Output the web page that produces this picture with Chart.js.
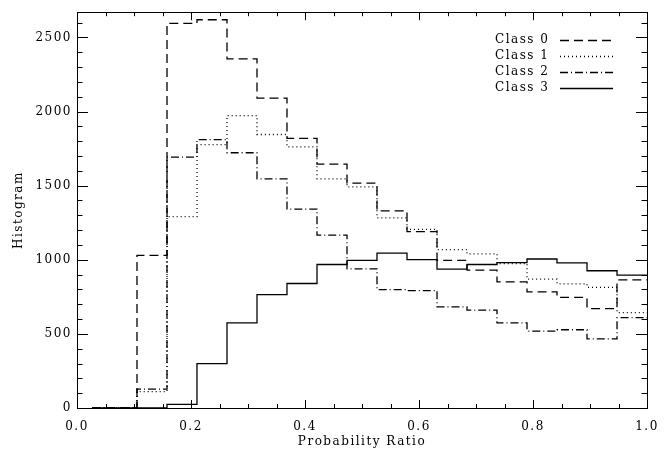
<!DOCTYPE html>
<html>
<head>
<meta charset="utf-8">
<script src="https://cdn.jsdelivr.net/npm/chart.js@4.4.1/dist/chart.umd.min.js"></script>
<style>
html,body{margin:0;padding:0;background:#fff;}
#wrap{width:672px;height:450px;}
</style>
</head>
<body>
<div id="wrap"><canvas id="c" width="672" height="450"></canvas></div>
<script>
// Bin centres of the probability-ratio histogram (last point closes the final bin at 1.0)
const ratio = [0.0263, 0.0789, 0.1316, 0.1842, 0.2368, 0.2895, 0.3421, 0.3947, 0.4474, 0.5,
               0.5526, 0.6053, 0.6579, 0.7105, 0.7632, 0.8158, 0.8684, 0.9211, 0.9737, 1.0];
const class0 = [0, 0, 1029, 2595, 2619, 2355, 2091, 1819, 1645, 1517, 1330, 1190, 996, 930, 851, 783, 746, 671, 864, 864];
const class1 = [0, 0, 110, 1291, 1777, 1972, 1845, 1761, 1546, 1491, 1282, 1205, 1069, 1040, 974, 869, 838, 814, 644, 644];
const class2 = [0, 0, 128, 1693, 1810, 1722, 1546, 1342, 1166, 939, 798, 792, 682, 660, 574, 519, 528, 466, 609, 609];
const class3 = [0, 0, 0, 24, 299, 574, 765, 840, 968, 996, 1045, 1001, 937, 968, 981, 1005, 979, 926, 897, 897];
const seriesNames = ['Class 0', 'Class 1', 'Class 2', 'Class 3'];
const xTicks = [0, 0.2, 0.4, 0.6, 0.8, 1.0];
const yTicks = [0, 500, 1000, 1500, 2000, 2500];

const FONT = 'DejaVu Serif';
const FSIZE = 12;
const SPACING = '1.5px';
const dashes = [[9, 5], [1, 3], [8, 3, 1, 3], []];
const allSeries = [class0, class1, class2, class3];

const datasets = allSeries.map((vals, i) => ({
  label: seriesNames[i],
  data: ratio.map((x, j) => ({x: x, y: vals[j]})),
  borderColor: '#000',
  borderWidth: 1.3,
  borderDash: dashes[i],
  pointRadius: 0,
  fill: false,
  stepped: 'middle'
}));

const spacingPlugin = {
  id: 'spacing',
  beforeUpdate(chart) { chart.ctx.letterSpacing = SPACING; },
  beforeLayout(chart) { chart.ctx.letterSpacing = SPACING; },
  beforeDraw(chart) { chart.ctx.letterSpacing = SPACING; }
};

const framePlugin = {
  id: 'frame',
  afterDatasetsDraw(chart) {
    const ctx = chart.ctx;
    const a = chart.chartArea;
    const xs = chart.scales.x, ys = chart.scales.y;
    ctx.save();
    ctx.strokeStyle = '#000';
    ctx.lineWidth = 1;
    ctx.setLineDash([]);
    ctx.strokeRect(Math.round(a.left) + 0.5, Math.round(a.top) + 0.5,
                   Math.round(a.right - a.left), Math.round(a.bottom - a.top));
    ctx.beginPath();
    // x ticks (major + minor) on bottom and top
    for (let k = 0; k <= 20; k++) {
      const v = k * 0.05;
      const px = Math.round(xs.getPixelForValue(v)) + 0.5;
      const len = (k % 4 === 0) ? 8 : 4;
      ctx.moveTo(px, a.bottom); ctx.lineTo(px, a.bottom - len);
      ctx.moveTo(px, a.top); ctx.lineTo(px, a.top + len);
    }
    // y ticks on left and right
    for (let v = 0; v <= 2600; v += 100) {
      const py = Math.round(ys.getPixelForValue(v)) + 0.5;
      const len = (v % 500 === 0) ? 11 : 5.5;
      ctx.moveTo(a.left, py); ctx.lineTo(a.left + len, py);
      ctx.moveTo(a.right, py); ctx.lineTo(a.right - len, py);
    }
    ctx.stroke();

    // legend: text then line sample
    ctx.letterSpacing = SPACING;
    ctx.font = FSIZE + 'px "' + FONT + '"';
    ctx.fillStyle = '#000';
    ctx.textBaseline = 'middle';
    ctx.textAlign = 'left';
    chart.data.datasets.forEach((ds, i) => {
      const y = a.top + 28 + 16 * i;
      ctx.fillText(ds.label, a.right - 152, y);
      ctx.beginPath();
      ctx.lineWidth = ds.borderWidth;
      ctx.setLineDash(ds.borderDash);
      ctx.moveTo(a.right - 87, Math.round(y) + 0.5);
      ctx.lineTo(a.right - 34, Math.round(y) + 0.5);
      ctx.stroke();
    });
    ctx.restore();
  }
};

new Chart(document.getElementById('c'), {
  type: 'line',
  data: { datasets: datasets },
  plugins: [spacingPlugin, framePlugin],
  options: {
    responsive: false,
    animation: false,
    layout: { padding: { top: 3, right: 25, left: 0, bottom: 0 } },
    plugins: { legend: { display: false }, tooltip: { enabled: false } },
    scales: {
      x: {
        type: 'linear',
        min: 0, max: 1,
        afterFit: s => { s.height = 42; },
        afterBuildTicks: s => { s.ticks = xTicks.map(v => ({value: v})); },
        grid: { display: false, drawTicks: false },
        border: { display: false },
        ticks: {
          color: '#000', padding: 12,
          font: { family: FONT, size: FSIZE },
          callback: v => Number(v).toFixed(1),
          maxRotation: 0, autoSkip: false
        },
        title: {
          display: true, text: 'Probability Ratio', color: '#000',
          font: { family: FONT, size: FSIZE },
          padding: { top: 0, bottom: 1 }
        }
      },
      y: {
        type: 'linear',
        min: 0, max: 2670,
        afterFit: s => { s.width = 77; },
        afterBuildTicks: s => { s.ticks = yTicks.map(v => ({value: v})); },
        grid: { display: false, drawTicks: false },
        border: { display: false },
        ticks: {
          color: '#000', padding: 5,
          font: { family: FONT, size: FSIZE },
          callback: v => String(v),
          autoSkip: false
        },
        title: {
          display: true, text: 'Histogram', color: '#000',
          font: { family: FONT, size: FSIZE },
          padding: { top: 12, bottom: 0 }
        }
      }
    }
  }
});
</script>
</body>
</html>
